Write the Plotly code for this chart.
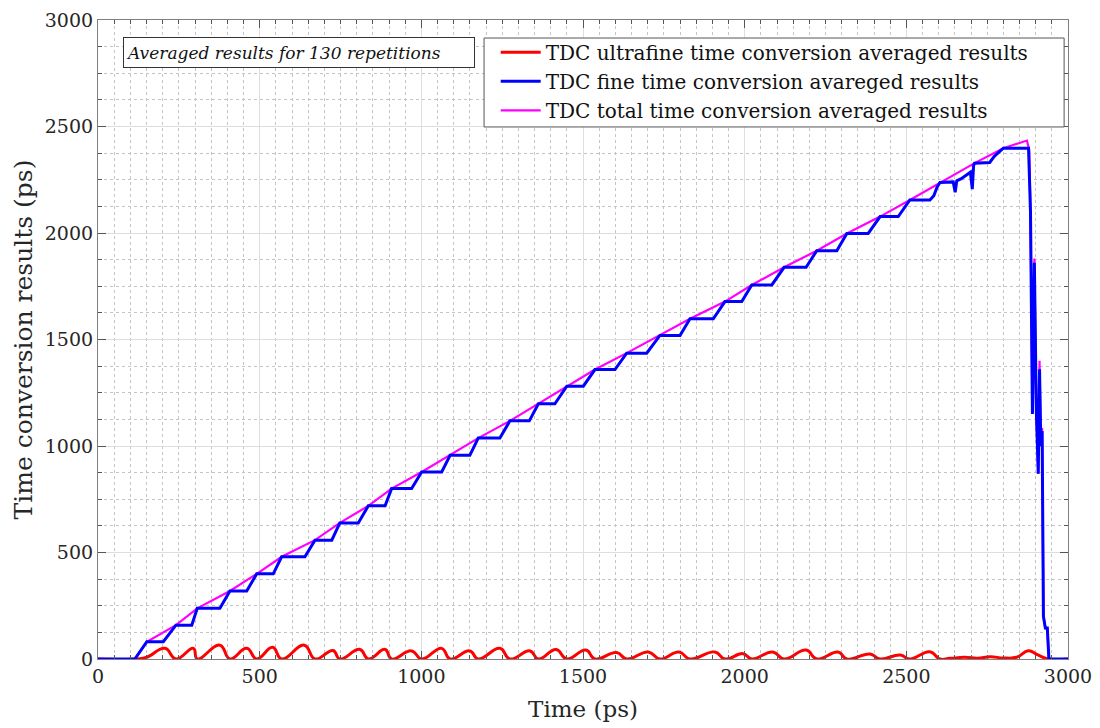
import plotly.graph_objects as go

# TDC fine time conversion (blue), staircase vertices
fine_x = [0, 114, 151, 202, 241, 290, 307, 377, 408, 460, 491, 542, 568, 640, 671, 723,
          748, 805, 836, 888, 908, 970, 1001, 1063, 1089, 1150, 1176, 1243, 1274, 1334,
          1362, 1413, 1450, 1501, 1537, 1599, 1635, 1697, 1738, 1800, 1831, 1903, 1939,
          1991, 2022, 2084, 2122, 2190, 2223, 2285, 2316, 2382, 2419, 2475, 2511, 2573,
          2585, 2595, 2604, 2645, 2651, 2656, 2670, 2688, 2698, 2704, 2708, 2711, 2758,
          2772, 2790, 2800, 2878, 2884, 2890, 2896, 2902, 2908, 2912, 2916, 2920, 2924,
          2930, 2936, 2941, 3000]
fine_y = [0, 0, 81, 81, 159, 159, 238, 238, 319, 319, 400, 400, 480, 480, 558, 558,
          639, 639, 719, 719, 800, 800, 878, 878, 956, 956, 1037, 1037, 1118, 1118,
          1198, 1198, 1281, 1281, 1359, 1359, 1436, 1436, 1519, 1519, 1597, 1597, 1678,
          1678, 1756, 1756, 1839, 1839, 1917, 1917, 1998, 1998, 2077, 2077, 2155, 2155,
          2175, 2215, 2237, 2240, 2191, 2245, 2255, 2275, 2285, 2206, 2316, 2328, 2331,
          2360, 2385, 2398, 2398, 2100, 1150, 1860, 1170, 870, 1360, 1000, 1070, 200,
          145, 145, 0, 0]

# TDC total time conversion (magenta)
total_x = [0, 114, 151, 241, 307, 408, 491, 568, 671, 748, 836, 908, 1001, 1089, 1176,
           1274, 1362, 1450, 1537, 1635, 1738, 1831, 1939, 2022, 2122, 2223, 2316, 2419,
           2511, 2604, 2711, 2800, 2873, 2880, 2884, 2890, 2896, 2902, 2908, 2912, 2916,
           2920, 2924, 2930, 2936, 2941, 3000]
total_y = [0, 0, 81, 159, 238, 319, 400, 480, 558, 639, 719, 800, 878, 956, 1037,
           1118, 1198, 1281, 1359, 1436, 1519, 1597, 1678, 1756, 1839, 1917, 1998, 2077,
           2155, 2237, 2328, 2398, 2434, 2390, 2100, 1150, 1880, 1170, 870, 1400, 1000,
           1085, 200, 145, 145, 0, 0]

# TDC ultrafine time conversion (red)
ultra_x = [0, 120, 151, 207, 241, 295, 307, 377, 408, 460, 491, 540, 568, 638, 671, 727,
           748, 810, 836, 888, 908, 970, 1001, 1063, 1089, 1150, 1176, 1243, 1274, 1336,
           1362, 1417, 1450, 1509, 1537, 1604, 1635, 1702, 1738, 1797, 1831, 1908, 1939,
           1995, 2022, 2087, 2122, 2190, 2223, 2289, 2316, 2388, 2419, 2481, 2511, 2573,
           2604, 2635, 2680, 2720, 2760, 2800, 2841, 2877, 2907, 2938, 3000]
ultra_y = [0, 0, 8, 50, 0, 50, 0, 65, 0, 50, 0, 55, 0, 65, 0, 40,
           0, 45, 0, 45, 0, 38, 0, 50, 0, 38, 0, 50, 0, 38,
           0, 45, 0, 42, 0, 30, 0, 33, 0, 33, 0, 33, 0,
           25, 0, 33, 0, 42, 0, 33, 0, 23, 0, 19, 0, 34,
           0, 3, 8, 4, 10, 5, 8, 39, 19, 0, 0]

FONT = "DejaVu Serif"
TXT = "#262626"

fig = go.Figure()
fig.add_trace(go.Scatter(x=ultra_x, y=ultra_y, mode="lines", legendrank=1,
                         name="TDC ultrafine time conversion averaged results",
                         line=dict(color="#ff0000", width=3, shape="spline", smoothing=1.3)))
fig.add_trace(go.Scatter(x=total_x, y=total_y, mode="lines", legendrank=3,
                         name="TDC total time conversion averaged results",
                         line=dict(color="#ff00ff", width=2.2)))
fig.add_trace(go.Scatter(x=fine_x, y=fine_y, mode="lines", legendrank=2,
                         name="TDC fine time conversion avareged results",
                         line=dict(color="#0000ff", width=3)))

axis_common = dict(
    showline=True, linecolor="#7f7f7f", linewidth=1.2, mirror="allticks",
    ticks="inside", ticklen=8, tickcolor="#555555",
    showgrid=True, gridcolor="#dedede", gridwidth=1, zeroline=False,
    tickfont=dict(family=FONT, size=19, color=TXT), automargin=False,
)

fig.update_xaxes(range=[0, 3000], dtick=500, tick0=0,
                 title=dict(text="Time (ps)", font=dict(family=FONT, size=23, color=TXT), standoff=14),
                 minor=dict(dtick=50, ticks="inside", ticklen=4, tickcolor="#555555",
                            showgrid=True, gridcolor="#c4c4c4", griddash="dot", gridwidth=1),
                 **axis_common)
fig.update_yaxes(range=[0, 3000], dtick=500, tick0=0,
                 title=dict(text="Time conversion results (ps)", font=dict(family=FONT, size=25, color=TXT), standoff=4),
                 minor=dict(dtick=125, ticks="inside", ticklen=4, tickcolor="#555555",
                            showgrid=True, gridcolor="#c4c4c4", griddash="dot", gridwidth=1),
                 **axis_common)

# legend frame (drawn as a shape so it can be wider than the entries)
fig.add_shape(type="rect", xref="paper", yref="paper", x0=0.398, x1=0.996, y0=0.8326, y1=0.9718,
              line=dict(color="#555555", width=1), fillcolor="white", layer="above")

fig.add_annotation(xref="paper", yref="paper", x=0.026, y=0.973, xanchor="left", yanchor="top",
                   text="Averaged results for 130 repetitions", showarrow=False,
                   font=dict(family=FONT, size=17, color="#111111", style="italic"),
                   width=346, height=25, align="left", borderpad=2,
                   bordercolor="#333333", borderwidth=1, bgcolor="white")

fig.update_layout(
    width=1092, height=720,
    margin=dict(l=90, r=32, t=12, b=69),
    plot_bgcolor="white", paper_bgcolor="white",
    showlegend=True,
    legend=dict(x=0.410, y=0.980, xanchor="left", yanchor="top",
                bgcolor="rgba(0,0,0,0)", borderwidth=0,
                font=dict(family=FONT, size=20, color="#111111"),
                tracegroupgap=0, itemwidth=40),
)

fig.write_html("out.html")
